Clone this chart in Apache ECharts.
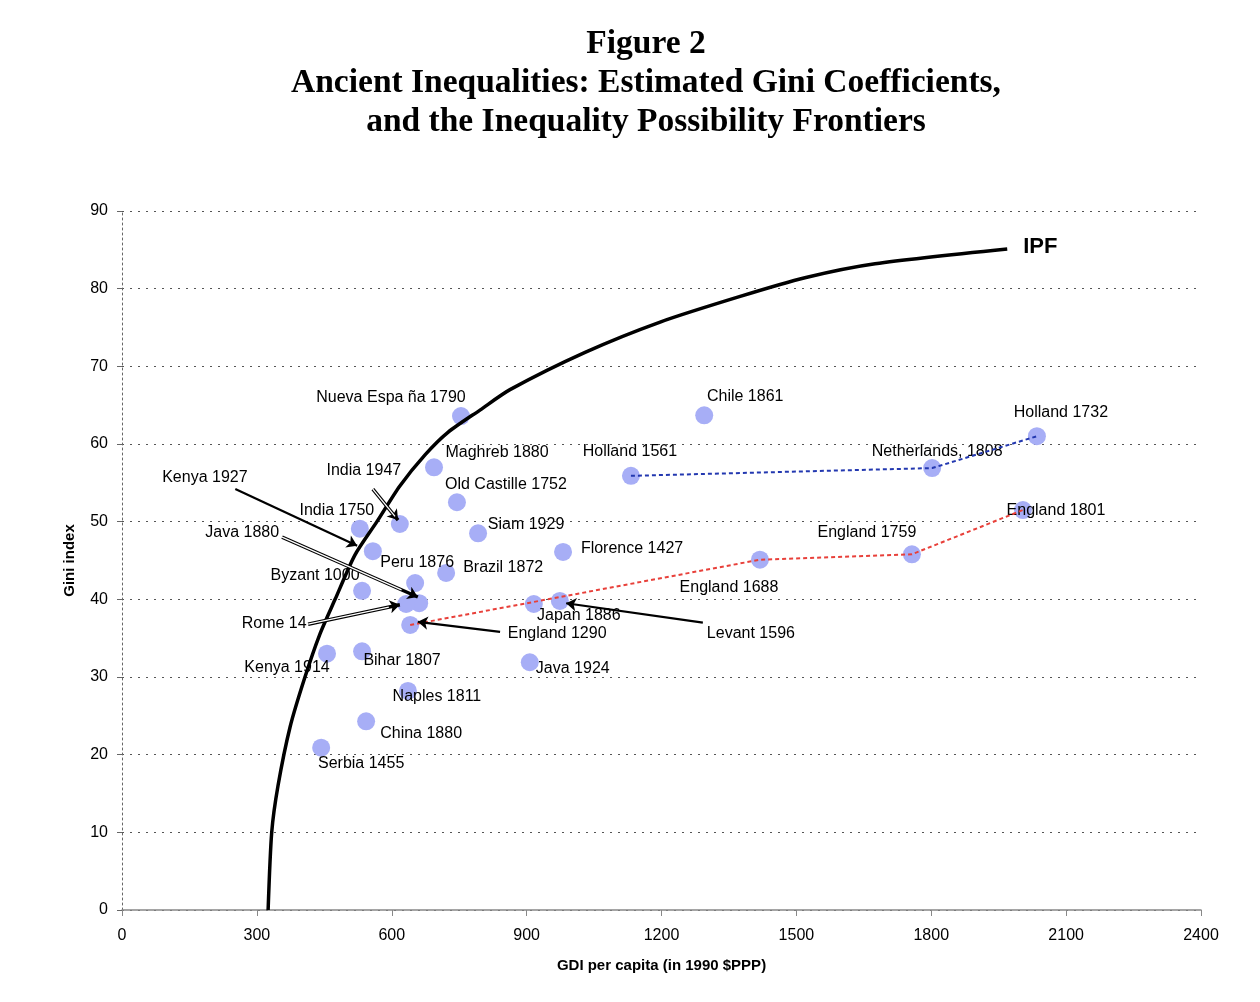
<!DOCTYPE html>
<html><head><meta charset="utf-8">
<script src="https://cdn.jsdelivr.net/npm/echarts@6/dist/echarts.min.js"></script>
<style>html,body{margin:0;padding:0;background:#fff}#c{width:1260px;height:1002px}</style>
</head><body><div id="c"></div>
<script>
// ---- data ----
const names = ["Nueva Espa ña 1790","Chile 1861","Holland 1732","Maghreb 1880","Holland 1561","Netherlands, 1808","Old Castille 1752","India 1947","India 1750","England 1801","Siam 1929","Kenya 1927","Florence 1427","England 1759","England 1688","Peru 1876","Brazil 1872","Byzant 1000","Java 1880","Rome 14","Japan 1886","Levant 1596","England 1290","Kenya 1914","Bihar 1807","Java 1924","Naples 1811","China 1880","Serbia 1455"];
const gdp  = [754,1295,2035,694,1132,1802,745,618,529,2004,792,558,981,1757,1419,652,721,534,661,632,916,974,641,456,534,907,636,543,443];
const gini = [63.6,63.7,61.0,57.0,55.9,56.9,52.5,49.7,49.1,51.5,48.5,46.2,46.1,45.8,45.1,42.1,43.4,41.1,39.5,39.4,39.4,39.8,36.7,33.0,33.3,31.9,28.2,24.3,20.9];
const ipfX = [325,333,347,374,407,440,474,518,567,618,674,725,797,863,1030,1197,1375,1519,1675,1969];
const ipfY = [0,10,16,23.6,30,35.5,40,45.7,50,54.6,58.6,61.5,64.4,67,71.8,75.7,79,81.4,83.2,85.1];
const englandPath = ["England 1290","England 1688","England 1759","England 1801"];
const hollandPath = ["Holland 1561","Netherlands, 1808","Holland 1732"];
// annotation arrows [fromX, fromY, toX, toY] in data units
const arrowsSolid = [[252,54.2,523,46.9],[841,35.8,658,37.1],[1292,37.0,988,39.5]];
const arrowsHollow = [[558,54.2,614,50.2],[356,48.0,658,40.3],[414,36.8,618,39.3]];
const xTicks = [0,300,600,900,1200,1500,1800,2100,2400];

// ---- label placement (pixel offsets from point) ----
const labelOffsets = {
 "Nueva Espa ña 1790":[-70,-18],"Chile 1861":[41,-19],"Holland 1732":[24,-24],"Maghreb 1880":[63,-15],
 "Holland 1561":[-1,-24],"Netherlands, 1808":[5,-16],"Old Castille 1752":[49,-18],"India 1947":[-36,-53],
 "India 1750":[-23,-18],"England 1801":[33,1],"Siam 1929":[48,-9],"Kenya 1927":[-168,-74],
 "Florence 1427":[69,-3],"England 1759":[-45,-22],"England 1688":[-31,28],"Peru 1876":[2,-20],
 "Brazil 1872":[57,-5],"Byzant 1000":[-47,-15],"Java 1880":[-177,-71],"Rome 14":[-132,20],
 "Japan 1886":[45,12],"Levant 1596":[191,33],"England 1290":[147,9],"Kenya 1914":[-40,14],
 "Bihar 1807":[40,9],"Java 1924":[43,6],"Naples 1811":[29,6],"China 1880":[55,12],"Serbia 1455":[40,16]
};

const pt = n => { const i = names.indexOf(n); return [gdp[i], gini[i]]; };
const scatterData = names.map((n,i)=>({value:[gdp[i],gini[i]], name:n}));
const ipfData = ipfX.map((x,i)=>[x, ipfY[i]]);
const seg = a => ({coords:[[a[0],a[1]],[a[2],a[3]]]});

const chart = echarts.init(document.getElementById('c'));
chart.setOption({
  animation:false,
  title:{text:'Figure 2\nAncient Inequalities: Estimated Gini Coefficients,\nand the Inequality Possibility Frontiers',
    left:641, top:20, textAlign:'center',
    textStyle:{fontFamily:'Liberation Serif, Times New Roman, serif', fontWeight:'bold', fontSize:33.5, lineHeight:39, color:'#000'}},
  grid:{left:122, right:59, top:211, bottom:92},
  xAxis:{type:'value', min:0, max:2400, interval:300,
    name:'GDI per capita (in 1990 $PPP)', nameLocation:'middle', nameGap:48,
    nameTextStyle:{fontFamily:'Liberation Sans, Arial', fontWeight:'bold', fontSize:15, color:'#000'},
    axisLine:{show:true, lineStyle:{color:'#888', width:1.5}},
    axisTick:{show:true, length:6, lineStyle:{color:'#888'}},
    axisLabel:{fontFamily:'Liberation Sans, Arial', fontSize:16, color:'#000', margin:18,
      formatter:v=>xTicks.includes(v)?String(v):''},
    splitLine:{show:false}},
  yAxis:{type:'value', min:0, max:90, interval:10,
    name:'Gini index', nameLocation:'middle', nameGap:45, nameRotate:90,
    nameTextStyle:{fontFamily:'Liberation Sans, Arial', fontWeight:'bold', fontSize:15, color:'#000'},
    axisLine:{show:true, lineStyle:{color:'#666', type:[2,3], width:1}},
    axisTick:{show:true, length:5, lineStyle:{color:'#666'}},
    axisLabel:{fontFamily:'Liberation Sans, Arial', fontSize:16, color:'#000', margin:14},
    splitLine:{show:true, lineStyle:{color:'#555', type:[2,6], width:1}}},
  series:[
    {type:'scatter', data:scatterData, symbol:'circle', symbolSize:18, z:2,
      itemStyle:{color:'#a7aef6', opacity:1},
      label:{show:true, position:'inside', formatter:p=>p.name,
        fontFamily:'Liberation Sans, Arial, sans-serif', fontSize:16, color:'#000'},
      labelLayout:p=>{ const o = labelOffsets[names[p.dataIndex]] || [0,0]; return {dx:o[0], dy:o[1], hideOverlap:false}; }},
    {type:'line', data:ipfData, smooth:0.25, showSymbol:false, symbol:'none', z:3,
      lineStyle:{color:'#000', width:3.5},
      endLabel:{show:true, formatter:'IPF', offset:[8,-2], fontFamily:'Liberation Sans, Arial', fontWeight:'bold', fontSize:22, color:'#000'}},
    {type:'line', data:englandPath.map(pt), showSymbol:false, symbol:'none', z:4,
      lineStyle:{color:'#e8403a', width:2, type:[4,3]}},
    {type:'line', data:hollandPath.map(pt), showSymbol:false, symbol:'none', z:4,
      lineStyle:{color:'#2338b0', width:2, type:[4,3]}},
    {type:'lines', coordinateSystem:'cartesian2d', z:5, symbol:['none','arrow'], symbolSize:10,
      lineStyle:{color:'#000', width:2.2, opacity:1},
      data:arrowsSolid.map(seg)},
    {type:'lines', coordinateSystem:'cartesian2d', z:5, symbol:['none','arrow'], symbolSize:10,
      lineStyle:{color:'#000', width:3.5, opacity:1},
      data:arrowsHollow.map(seg)},
    {type:'lines', coordinateSystem:'cartesian2d', z:6, symbol:['none','none'],
      lineStyle:{color:'#fff', width:1.3, opacity:1},
      data:arrowsHollow.map(a=>({coords:[[a[0],a[1]],[a[0]+(a[2]-a[0])*0.88,a[1]+(a[3]-a[1])*0.88]]}))}
  ]
});
</script></body></html>
